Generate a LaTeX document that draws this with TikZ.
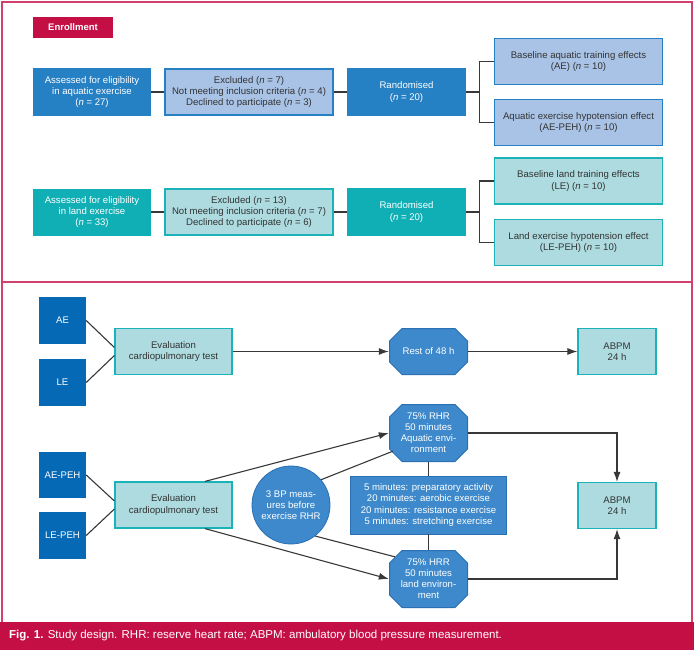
\documentclass[tikz,border=0pt]{standalone}
\usepackage{fontspec}
\setmainfont{Liberation Sans}
\usetikzlibrary{arrows.meta}
\definecolor{crimson}{HTML}{C40F45}
\definecolor{framepink}{HTML}{D0426D}
\definecolor{aqdark}{HTML}{2680C4}
\definecolor{aqlight}{HTML}{A9C3E6}
\definecolor{lddark}{HTML}{10AFB5}
\definecolor{ldlight}{HTML}{ADDBDF}
\definecolor{ldborder}{HTML}{1BB3B8}
\definecolor{grpblue}{HTML}{0569B5}
\definecolor{octblue}{HTML}{3D89CB}
\definecolor{octborder}{HTML}{2A70B3}
\definecolor{txtgray}{HTML}{333333}
\definecolor{linegray}{HTML}{383838}
\newcommand{\nv}{\textit{n}}
\tikzset{
  every node/.style={font=\fontsize{9.6}{11.1}\selectfont, align=center, inner sep=1pt},
  aqbox/.style={rectangle, fill=aqdark, text=white, minimum width=118pt, minimum height=47pt},
  aqsoft/.style={rectangle, draw=aqdark, line width=1.2pt, fill=aqlight, text=txtgray, minimum width=168pt, minimum height=46pt},
  ldbox/.style={rectangle, fill=lddark, text=white, minimum width=118pt, minimum height=47pt},
  ldsoft/.style={rectangle, draw=ldborder, line width=1.2pt, fill=ldlight, text=txtgray, minimum width=168pt, minimum height=46pt},
  grpbox/.style={rectangle, fill=grpblue, text=white, minimum width=47pt, minimum height=47pt},
  octbox/.style={rectangle, text=white, minimum width=79pt, path picture={
    \path[fill=octblue, draw=octborder, line width=1pt]
      ([shift={(13pt,-0.5pt)}]path picture bounding box.north west) -- ([shift={(-13pt,-0.5pt)}]path picture bounding box.north east)
      -- ([shift={(-0.5pt,-13pt)}]path picture bounding box.north east) -- ([shift={(-0.5pt,13pt)}]path picture bounding box.south east)
      -- ([shift={(-13pt,0.5pt)}]path picture bounding box.south east) -- ([shift={(13pt,0.5pt)}]path picture bounding box.south west)
      -- ([shift={(0.5pt,13pt)}]path picture bounding box.south west) -- ([shift={(0.5pt,-13pt)}]path picture bounding box.north west)
      -- cycle;}},
  link/.style={draw=linegray, line width=1.1pt},
  arrow/.style={link, -{Latex[length=10pt,width=7pt]}}
}
\begin{document}
\begin{tikzpicture}[x=1pt,y=-1pt]
  \useasboundingbox (0,0) rectangle (695,650);
  % frames
  \draw[framepink, line width=1.4pt] (2,2) rectangle (692,282);
  \draw[framepink, line width=1.4pt] (2,282) rectangle (692,623);
  \fill[crimson] (0,622) rectangle (694,650);
  \node[anchor=west, text=white, font=\fontsize{11.5}{13}\selectfont] (caption) at (8,636)
    {\textbf{Fig. 1.} Study design. RHR: reserve heart rate; ABPM: ambulatory blood pressure measurement.};
  \node[fill=crimson, text=white, font=\fontsize{9.5}{11}\selectfont\bfseries, minimum width=80pt, minimum height=21pt] (enroll) at (73,27.5) {Enrollment};

  % aquatic enrollment
  \node[aqbox] (aqAssess) at (92,92) {Assessed for eligibility\\in aquatic exercise\\(\nv{} = 27)};
  \node[aqsoft] (aqExcl) at (249,92) {Excluded (\nv{} = 7)\\Not meeting inclusion criteria (\nv{} = 4)\\Declined to participate (\nv{} = 3)};
  \node[aqbox, minimum width=119pt, minimum height=48pt] (aqRand) at (406.5,92) {Randomised\\(\nv{} = 20)};
  \node[aqsoft] (aqBase) at (578.5,61.5) {Baseline aquatic training effects\\(AE) (\nv{} = 10)};
  \node[aqsoft] (aqPeh) at (578.5,122.5) {Aquatic exercise hypotension effect\\(AE-PEH) (\nv{} = 10)};
  \draw[link] (aqAssess) -- (aqExcl);
  \draw[link] (aqExcl) -- (aqRand);
  \draw[link] (aqRand.east) -- ++(13,0) |- (aqBase.west);
  \draw[link] (aqRand.east) -- ++(13,0) |- (aqPeh.west);

  % land enrollment
  \node[ldbox] (ldAssess) at (92,212) {Assessed for eligibility\\in land exercise\\(\nv{} = 33)};
  \node[ldsoft] (ldExcl) at (249,212) {Excluded (\nv{} = 13)\\Not meeting inclusion criteria (\nv{} = 7)\\Declined to participate (\nv{} = 6)};
  \node[ldbox, minimum width=119pt, minimum height=48pt] (ldRand) at (406.5,212) {Randomised\\(\nv{} = 20)};
  \node[ldsoft] (ldBase) at (578.5,181) {Baseline land training effects\\(LE) (\nv{} = 10)};
  \node[ldsoft] (ldPeh) at (578.5,242.5) {Land exercise hypotension effect\\(LE-PEH) (\nv{} = 10)};
  \draw[link] (ldAssess) -- (ldExcl);
  \draw[link] (ldExcl) -- (ldRand);
  \draw[link] (ldRand.east) -- ++(13,0) |- (ldBase.west);
  \draw[link] (ldRand.east) -- ++(13,0) |- (ldPeh.west);

  % baseline protocol
  \node[grpbox] (ae) at (62.5,320.5) {AE};
  \node[grpbox] (le) at (62.5,382.5) {LE};
  \node[ldsoft, minimum width=117pt, minimum height=46pt] (evalA) at (173.5,351.5) {Evaluation\\cardiopulmonary test};
  \node[octbox, minimum height=47pt] (rest) at (428.5,351.5) {Rest of 48 h};
  \node[ldsoft, minimum width=78pt, minimum height=46pt] (abpmA) at (617,351.5) {ABPM\\24 h};
  \draw[link] (ae.east) -- ([yshift=4pt]evalA.west);
  \draw[link] (le.east) -- ([yshift=-4pt]evalA.west);
  \draw[arrow] (evalA) -- (rest);
  \draw[arrow] (rest) -- (abpmA);

  % hypotension protocol
  \node[grpbox, minimum height=46pt] (aepeh) at (62.5,475) {AE-PEH};
  \node[grpbox] (lepeh) at (62.5,535.5) {LE-PEH};
  \node[ldsoft, minimum width=117pt, minimum height=46pt] (evalB) at (173.5,505) {Evaluation\\cardiopulmonary test};
  \node[circle, draw=octborder, line width=0.8pt, fill=octblue, text=white, minimum size=78pt] (bpm) at (291,505) {3 BP meas-\\ures before\\exercise RHR};
  \node[octbox, minimum height=58pt] (rhr) at (428.5,433) {75\% RHR\\50 minutes\\Aquatic envi-\\ronment};
  \node[rectangle, draw=octborder, line width=0.8pt, fill=octblue, text=white, minimum width=156pt, minimum height=58pt] (prog) at (428.5,505)
    {5 minutes: preparatory activity\\20 minutes: aerobic exercise\\20 minutes: resistance exercise\\5 minutes: stretching exercise};
  \node[octbox, minimum height=58pt] (hrr) at (428.5,579) {75\% HRR\\50 minutes\\land environ-\\ment};
  \node[ldsoft, minimum width=78pt, minimum height=46pt] (abpmB) at (617,505.5) {ABPM\\24 h};
  \draw[link] (aepeh.east) -- ([yshift=4pt]evalB.west);
  \draw[link] (lepeh.east) -- ([yshift=-4pt]evalB.west);
  \draw[arrow] ([xshift=31.5pt]evalB.north) -- (rhr.west);
  \draw[arrow] ([xshift=31.5pt]evalB.south) -- (hrr.west);
  \draw[link] (bpm.40) -- ([shift={(4pt,11pt)}]rhr.south west);
  \draw[link] (bpm.-52) -- ([shift={(6pt,-7pt)}]hrr.north west);
  \draw[link] (rhr) -- (prog);
  \draw[link] (prog) -- (hrr);
  \draw[arrow] (rhr.east) -| (abpmB.north);
  \draw[arrow] (hrr.east) -| (abpmB.south);
\end{tikzpicture}
\end{document}
